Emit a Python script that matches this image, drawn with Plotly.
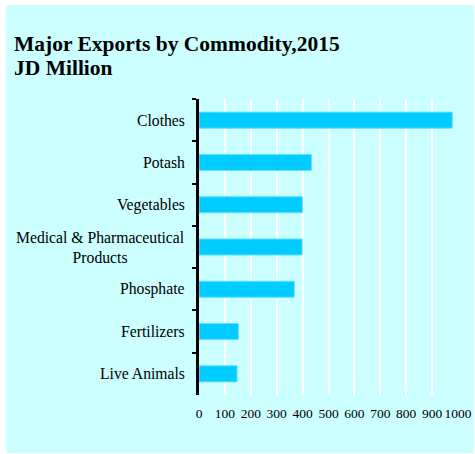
import plotly.graph_objects as go

# Major exports by commodity, 2015 (JD million)
commodities = ["Clothes", "Potash", "Vegetables", "Medical & Pharmaceutical<br>Products",
               "Phosphate", "Fertilizers", "Live Animals"]
export_values = [978, 434, 399, 398, 368, 152, 147]
x_ticks = [0, 100, 200, 300, 400, 500, 600, 700, 800, 900, 1000]
title_main = "Major Exports by Commodity,2015"
title_unit = "JD Million"

BG = "#CCFFFF"
BAR = "#00CCFF"
SERIF = "Liberation Serif, Times New Roman, serif"

W, H = 475, 454
L, R, T, B = 199, 17, 99, 59
pw, ph = W - L - R, H - T - B


def px_to_paper_x(px):
    return (px - L) / pw


def px_to_paper_y(py):
    return (H - B - py) / ph


fig = go.Figure(go.Bar(
    x=export_values,
    y=commodities,
    orientation="h",
    marker=dict(color=BAR, line=dict(color="#66E0FF", width=1)),
    hoverinfo="x+y",
))

# category labels drawn as annotations so wrapped lines stay centred
for name in commodities:
    fig.add_annotation(
        x=0, xref="paper", y=name, yref="y",
        text=name, showarrow=False, xanchor="right", xshift=-12,
        align="center", font=dict(family=SERIF, size=15.7, color="#000"),
    )

# two-line heading with tight line spacing
for text, centre_px in ((title_main, 44), (title_unit, 68)):
    fig.add_annotation(
        x=px_to_paper_x(12), xref="paper", y=px_to_paper_y(centre_px), yref="paper",
        text=f"<b>{text}</b>", showarrow=False, xanchor="left", yanchor="middle",
        font=dict(family=SERIF, size=21.5, color="#000"),
    )

# cyan panel behind the whole chart
fig.add_shape(
    type="rect", xref="paper", yref="paper", layer="below",
    x0=px_to_paper_x(6), x1=px_to_paper_x(474),
    y0=px_to_paper_y(453), y1=px_to_paper_y(5),
    fillcolor=BG, line=dict(width=0),
)

fig.update_layout(
    width=W, height=H,
    margin=dict(l=L, r=R, t=T, b=B, autoexpand=False),
    paper_bgcolor="white",
    plot_bgcolor=BG,
    bargap=0.62,
    showlegend=False,
    xaxis=dict(
        range=[0, 1000], tickvals=x_ticks, ticktext=[str(v) for v in x_ticks],
        showgrid=True, gridcolor="white", gridwidth=2,
        zeroline=False, showline=False, ticks="", automargin=False,
        tickfont=dict(family=SERIF, size=13.5, color="#000"),
        ticklabelstandoff=8,
    ),
    yaxis=dict(
        categoryorder="array", categoryarray=commodities,
        autorange="reversed", showticklabels=False, automargin=False,
        showgrid=False, zeroline=False,
        showline=True, linecolor="#000", linewidth=2.5,
        ticks="outside", tickson="boundaries", ticklen=4, tickwidth=2, tickcolor="#000",
    ),
)

fig.write_html("out.html")
